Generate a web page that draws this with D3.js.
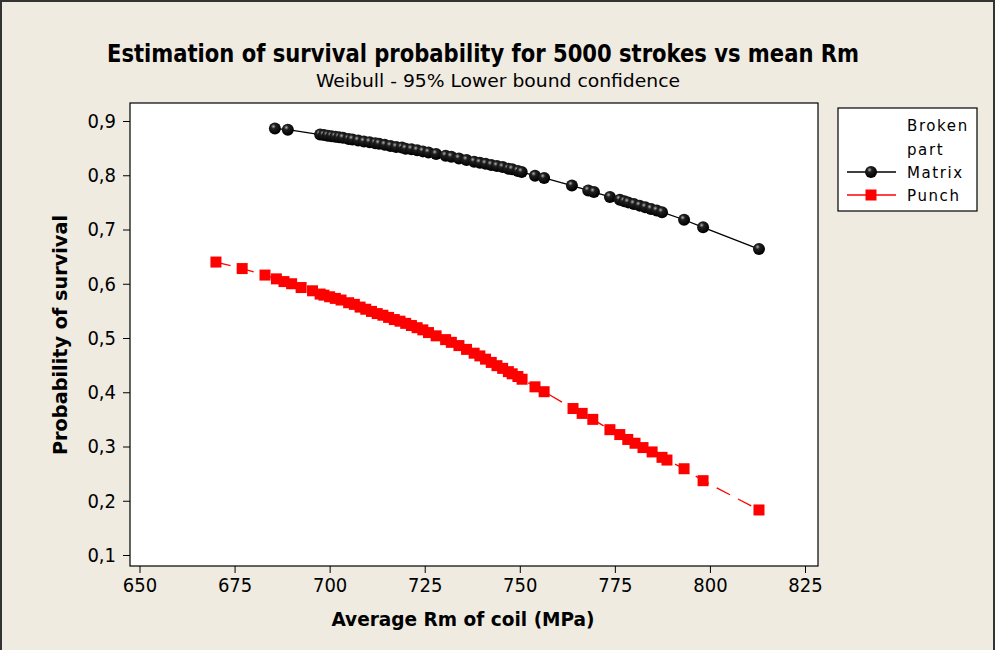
<!DOCTYPE html>
<html>
<head>
<meta charset="utf-8">
<script src="https://cdn.jsdelivr.net/npm/d3@7"></script>
<style>
  body { margin: 0; background: #efebe1; }
  svg text { font-family: Tahoma, "DejaVu Sans Condensed", "DejaVu Sans", sans-serif; fill: #000; }
</style>
</head>
<body>
<div id="chart"></div>
<script>
// values
const matrixRm = [685.6, 689, 697.5, 698.5, 699.5, 700.5, 701.5, 702.5, 703.5, 705, 706, 707.5, 709, 710.5,
  712, 713, 714.5, 716, 717.5, 719, 720, 721.5, 723, 724.5, 726, 728, 730.5, 732, 734, 736, 738, 739.5,
  741, 742.5, 744, 745.5, 747, 748, 749.5, 750.5, 754, 756.4, 763.7, 768, 769.5, 773.7, 776.3, 777.5,
  778.5, 780, 781.5, 783, 784.5, 786, 787.4, 793.2, 798.2, 812.9];
const matrixSurv = [0.886, 0.884, 0.875, 0.874, 0.873, 0.872, 0.871, 0.870, 0.869, 0.867, 0.866, 0.864, 0.862, 0.861,
  0.859, 0.858, 0.856, 0.854, 0.852, 0.851, 0.849, 0.848, 0.846, 0.844, 0.842, 0.839, 0.836, 0.834, 0.831, 0.828, 0.825, 0.823,
  0.821, 0.819, 0.817, 0.815, 0.812, 0.811, 0.808, 0.806, 0.799, 0.795, 0.781, 0.772, 0.769, 0.760, 0.755, 0.752,
  0.750, 0.747, 0.744, 0.741, 0.738, 0.735, 0.732, 0.718, 0.704, 0.664];

const punchRm = [670.1, 677, 683, 686, 688, 690, 692.5, 695.5, 697.5, 698.5, 700, 701.5, 703, 705, 706.5, 708,
  709.5, 711, 712.5, 714, 715.5, 717, 718.5, 720, 721.5, 723, 724.5, 726, 728, 730.5, 732, 734, 736, 738,
  739.5, 741, 742.5, 744, 745.5, 747, 748, 749.5, 750.6, 754, 756.4, 764, 766.4, 769.2, 773.7, 776.3, 778.4,
  780.3, 782.4, 784.8, 787.4, 788.7, 793.2, 798.2, 812.9];
const punchSurv = [0.640, 0.628, 0.616, 0.609, 0.604, 0.600, 0.593, 0.587, 0.581, 0.579, 0.576, 0.573, 0.570, 0.565, 0.562, 0.557,
  0.553, 0.549, 0.545, 0.542, 0.538, 0.534, 0.531, 0.527, 0.523, 0.519, 0.515, 0.510, 0.504, 0.497, 0.492, 0.486, 0.479, 0.472,
  0.467, 0.461, 0.455, 0.449, 0.444, 0.438, 0.434, 0.429, 0.424, 0.410, 0.401, 0.370, 0.361, 0.350, 0.331, 0.322, 0.313,
  0.306, 0.298, 0.290, 0.280, 0.275, 0.259, 0.237, 0.183];

const xTicks = [650, 675, 700, 725, 750, 775, 800, 825];
const yTicks = [0.1, 0.2, 0.3, 0.4, 0.5, 0.6, 0.7, 0.8, 0.9];

const titleText = "Estimation of survival probability for 5000 strokes vs mean Rm";
const subtitleText = "Weibull - 95% Lower bound confidence";
const xLabel = "Average Rm of coil (MPa)";
const yLabel = "Probability of survival";
const legendTitle = ["Broken", "part"];
const seriesNames = ["Matrix", "Punch"];

const width = 995, height = 650;
const frame = { left: 130, top: 103, right: 818, bottom: 566 };
const condensed = "'DejaVu Sans Condensed', sans-serif";

const svg = d3.select("#chart")
  .append("svg")
  .attr("width", width)
  .attr("height", height);

const defs = svg.append("defs");
const grad = defs.append("radialGradient")
  .attr("id", "ball")
  .attr("cx", "38%").attr("cy", "32%").attr("r", "65%");
grad.append("stop").attr("offset", "0%").attr("stop-color", "#b0b0b0");
grad.append("stop").attr("offset", "30%").attr("stop-color", "#202020");
grad.append("stop").attr("offset", "100%").attr("stop-color", "#000");

// page background + outer border
svg.append("rect")
  .attr("x", 1).attr("y", 1)
  .attr("width", width - 2).attr("height", height + 10)
  .attr("fill", "#efebe1")
  .attr("stroke", "#333")
  .attr("stroke-width", 2);

svg.append("rect")
  .attr("x", frame.left).attr("y", frame.top)
  .attr("width", frame.right - frame.left)
  .attr("height", frame.bottom - frame.top)
  .attr("fill", "#fff")
  .attr("stroke", "#000")
  .attr("stroke-width", 1.2);

const x = d3.scaleLinear().domain([650, 825]).range([139.5, 805]);
const y = d3.scaleLinear().domain([0.1, 0.9]).range([555, 121]);

const fmt = (d) => d3.format(".1f")(d).replace(".", ",");

// axes
const xAxis = svg.append("g")
  .attr("transform", `translate(0,${frame.bottom})`)
  .call(d3.axisBottom(x).tickValues(xTicks).tickSize(7).tickSizeOuter(0).tickPadding(5));
xAxis.select(".domain").remove();
xAxis.selectAll("line").attr("stroke", "#000");
xAxis.selectAll("text").attr("font-size", 20).attr("dy", "0.72em")
  .style("font-family", condensed);

const yAxis = svg.append("g")
  .attr("transform", `translate(${frame.left},0)`)
  .call(d3.axisLeft(y).tickValues(yTicks).tickFormat(fmt).tickSize(7).tickSizeOuter(0).tickPadding(7));
yAxis.select(".domain").remove();
yAxis.selectAll("line").attr("stroke", "#000");
yAxis.selectAll("text").attr("font-size", 20)
  .style("font-family", condensed);

// titles
svg.append("text")
  .attr("x", 483).attr("y", 62)
  .attr("text-anchor", "middle")
  .attr("font-size", 25).attr("font-weight", "bold")
  .attr("textLength", 752).attr("lengthAdjust", "spacingAndGlyphs")
  .style("font-family", condensed)
  .text(titleText);

svg.append("text")
  .attr("x", 498).attr("y", 87)
  .attr("text-anchor", "middle")
  .attr("font-size", 18)
  .attr("textLength", 364).attr("lengthAdjust", "spacingAndGlyphs")
  .style("font-family", condensed)
  .text(subtitleText);

svg.append("text")
  .attr("x", 463).attr("y", 626)
  .attr("text-anchor", "middle")
  .attr("font-size", 20).attr("font-weight", "bold")
  .attr("textLength", 263).attr("lengthAdjust", "spacingAndGlyphs")
  .style("font-family", condensed)
  .text(xLabel);

svg.append("text")
  .attr("transform", "rotate(-90)")
  .attr("x", -335).attr("y", 67)
  .attr("text-anchor", "middle")
  .attr("font-size", 20).attr("font-weight", "bold")
  .attr("textLength", 240).attr("lengthAdjust", "spacingAndGlyphs")
  .style("font-family", condensed)
  .text(yLabel);

// series
const matrix = matrixRm.map((d, i) => ({ rm: d, p: matrixSurv[i] }));
const punch = punchRm.map((d, i) => ({ rm: d, p: punchSurv[i] }));

const line = d3.line().x((d) => x(d.rm)).y((d) => y(d.p));

svg.append("path")
  .datum(punch)
  .attr("d", line)
  .attr("fill", "none")
  .attr("stroke", "#ff0000")
  .attr("stroke-width", 1.3)
  .attr("stroke-dasharray", "15,9");

const sq = 11;
svg.append("g")
  .selectAll("rect")
  .data(punch)
  .join("rect")
  .attr("x", (d) => x(d.rm) - sq / 2)
  .attr("y", (d) => y(d.p) - sq / 2)
  .attr("width", sq).attr("height", sq)
  .attr("fill", "#ff0000");

svg.append("path")
  .datum(matrix)
  .attr("d", line)
  .attr("fill", "none")
  .attr("stroke", "#000")
  .attr("stroke-width", 1.3);

svg.append("g")
  .selectAll("circle")
  .data(matrix)
  .join("circle")
  .attr("cx", (d) => x(d.rm))
  .attr("cy", (d) => y(d.p))
  .attr("r", 6)
  .attr("fill", "url(#ball)");

// legend
const legend = svg.append("g");
legend.append("rect")
  .attr("x", 838).attr("y", 108)
  .attr("width", 139).attr("height", 103)
  .attr("fill", "#fff")
  .attr("stroke", "#000")
  .attr("stroke-width", 1.2);

const legFont = (sel) => sel
  .attr("font-size", 15)
  .attr("letter-spacing", 1.6)
  .style("font-family", "'DejaVu Sans', sans-serif");

legend.selectAll("text.head")
  .data(legendTitle)
  .join("text")
  .attr("class", "head")
  .attr("x", 907)
  .attr("y", (d, i) => 131 + i * 24)
  .text((d) => d)
  .call(legFont);

const rowY = [172, 195];
seriesNames.forEach((name, i) => {
  const cy = rowY[i];
  const col = i === 0 ? "#000" : "#ff0000";
  legend.append("line")
    .attr("x1", 847).attr("x2", 896)
    .attr("y1", cy).attr("y2", cy)
    .attr("stroke", col).attr("stroke-width", 1.3);
  if (i === 0) {
    legend.append("circle").attr("cx", 871).attr("cy", cy).attr("r", 6).attr("fill", "url(#ball)");
  } else {
    legend.append("rect").attr("x", 871 - sq / 2).attr("y", cy - sq / 2)
      .attr("width", sq).attr("height", sq).attr("fill", "#ff0000");
  }
  legend.append("text")
    .attr("x", 907).attr("y", cy + 6)
    .text(name)
    .call(legFont);
});
</script>
</body>
</html>
